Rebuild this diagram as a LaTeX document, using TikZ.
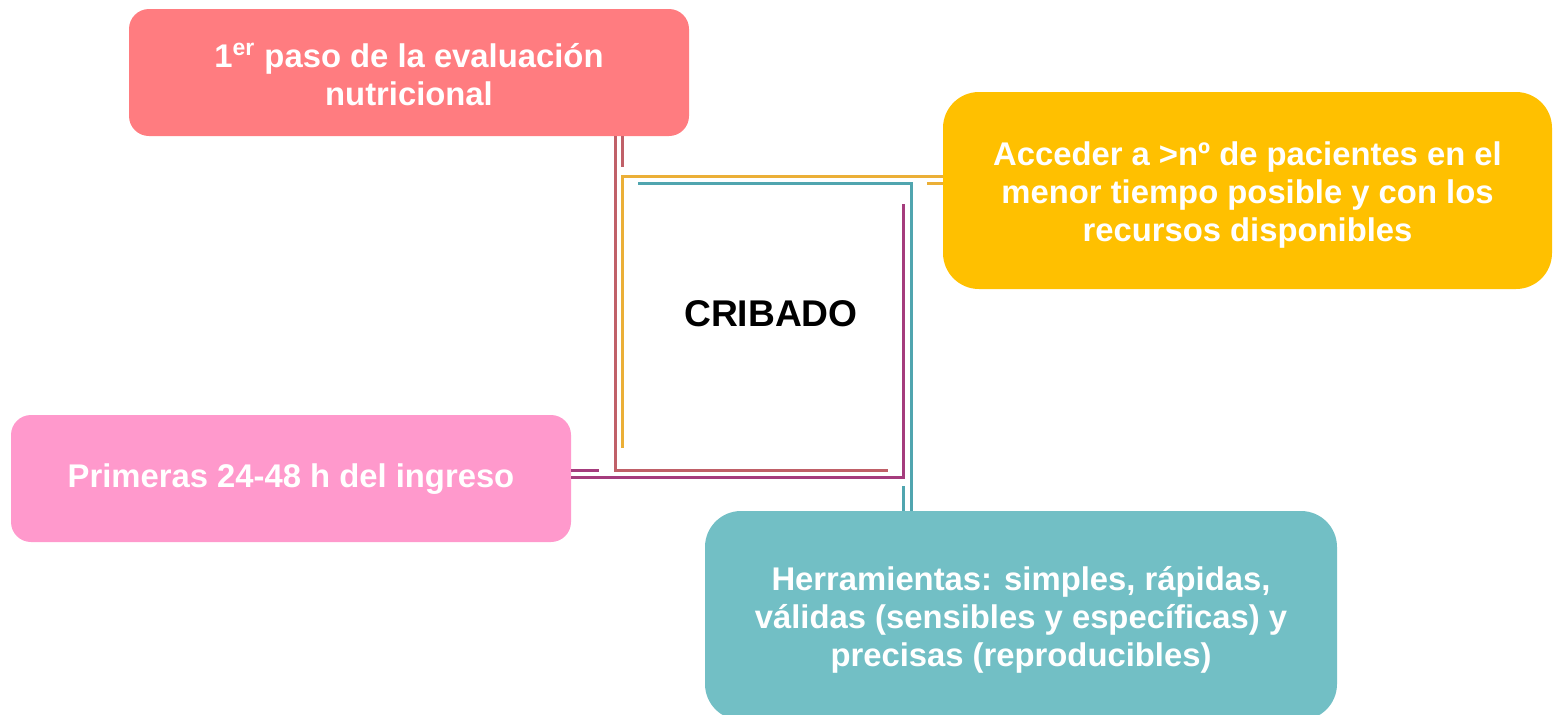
\documentclass[tikz,border=0pt]{standalone}
\usepackage{fontspec}
\setmainfont{Liberation Sans}
\definecolor{cTop}{HTML}{FF7C80}
\definecolor{cYel}{HTML}{FFC000}
\definecolor{cPink}{HTML}{FF99CC}
\definecolor{cTeal}{HTML}{72BFC5}
\definecolor{lRed}{RGB}{192,96,104}
\definecolor{lOra}{RGB}{235,175,55}
\definecolor{lTeal}{RGB}{80,165,175}
\definecolor{lPur}{RGB}{165,60,125}
\begin{document}
\begin{tikzpicture}[x=0.5pt,y=-0.5pt,
  box/.style={draw=none,inner sep=0pt},
  txt/.style={text=white,font=\bfseries\fontsize{16.4}{19}\selectfont,align=center,inner sep=0pt},
  conn/.style={line width=1.5pt}]
\useasboundingbox (0,0) rectangle (1554,714);
\node[box,fill=cTop,rounded corners=10pt,minimum width=280pt,minimum height=63.5pt,
  label={[txt,yshift=-1pt]center:1\textsuperscript{er} paso de la evaluación\\nutricional}] (top) at (409,72.5) {};
\node[box,fill=cYel,rounded corners=18pt,minimum width=304.5pt,minimum height=98.5pt,
  label={[txt,yshift=-2.5pt]center:Acceder a >nº de pacientes en el\\menor tiempo posible y con los\\recursos disponibles}] (yel) at (1247.5,190.5) {};
\node[box,fill=cPink,rounded corners=10pt,minimum width=280pt,minimum height=63.5pt,
  label={[txt,yshift=-0.5pt]center:Primeras 24-48 h del ingreso}] (pink) at (291,478.5) {};
\node[box,fill=cTeal,rounded corners=18pt,minimum width=316pt,minimum height=104.5pt,
  label={[txt,yshift=-2pt]center:Herramientas: simples, rápidas,\\válidas (sensibles y específicas) y\\precisas (reproducibles)}] (teal) at (1021,615.5) {};
\node[font=\bfseries\fontsize{18.6}{22}\selectfont,text=black] (crib) at (771,314) {CRIBADO};
% red connector
\coordinate (rB) at (615,470); \coordinate (rC) at (888,470);
\coordinate (rS) at (622,167);
\draw[conn,lRed] (top.south -| rB) -- (rB) -- (rC);
\draw[conn,lRed] (top.south -| rS) -- (rS);
% orange connector
\coordinate (oB) at (622,176); \coordinate (oC) at (622,448);
\coordinate (oS) at (927,183);
\draw[conn,lOra] (yel.west |- oB) -- (oB) -- (oC);
\draw[conn,lOra] (yel.west |- oS) -- (oS);
% teal connector
\coordinate (tB) at (911,183); \coordinate (tC) at (638,183);
\coordinate (tS) at (903,486);
\draw[conn,lTeal] (teal.north -| tB) -- (tB) -- (tC);
\draw[conn,lTeal] (teal.north -| tS) -- (tS);
% purple connector
\coordinate (pB) at (903,477); \coordinate (pC) at (903,204);
\coordinate (pS) at (599,470);
\draw[conn,lPur] (pink.east |- pB) -- (pB) -- (pC);
\draw[conn,lPur] (pink.east |- pS) -- (pS);
\end{tikzpicture}
\end{document}
